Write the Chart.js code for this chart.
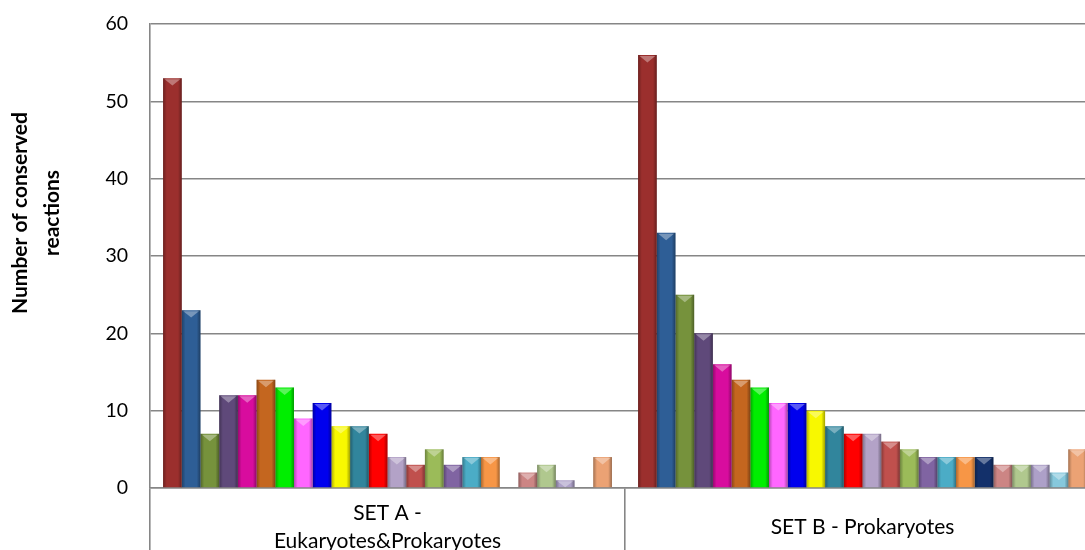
<!DOCTYPE html>
<html>
<head>
<meta charset="utf-8">
<script src="https://cdn.jsdelivr.net/npm/chart.js@4"></script>
<style>
  html, body { margin:0; padding:0; background:#fff; overflow:hidden; }
  #wrap { position:absolute; left:0; top:0; width:1100px; height:580px; }
</style>
</head>
<body>
<div id="wrap"><canvas id="chart" width="1100" height="580"></canvas></div>
<script>
// categories (x axis)
const categories = [["SET A -", "Eukaryotes&Prokaryotes"], "SET B - Prokaryotes"];
// one value per series
const setA = [53, 23, 7, 12, 12, 14, 13, 9, 11, 8, 8, 7, 4, 3, 5, 3, 4, 4, 0, 2, 3, 1, 0, 4];
const setB = [56, 33, 25, 20, 16, 14, 13, 11, 11, 10, 8, 7, 7, 6, 5, 4, 4, 4, 4, 3, 3, 3, 2, 5];
const colors = [
  "#9b2f2d", "#2e5e96", "#76923c", "#5f497a", "#d80c9e", "#c4661f",
  "#00ee00", "#ff66ff", "#0000ee", "#f8f800", "#31859c", "#ff0000",
  "#b3a2c7", "#c0504d", "#9bbb59", "#8064a2", "#4bacc6", "#f79646",
  "#13306a", "#cc8584", "#b0c88e", "#ada0c8", "#86c8dc", "#eba274"
];
const yTicks = [0, 10, 20, 30, 40, 50, 60];

const FONT = "Lato, 'Open Sans', sans-serif";

// bevel look of the excel bars, drawn over each bar element
const bevel = {
  id: "bevel",
  afterDatasetsDraw(chart){
    const ctx = chart.ctx;
    chart.data.datasets.forEach(function(ds, di){
      chart.getDatasetMeta(di).data.forEach(function(bar){
        const h = bar.base - bar.y;
        if(h < 1) return;
        const w = bar.width, l = bar.x - w/2;
        ctx.save();
        const g = ctx.createLinearGradient(l, 0, l + w, 0);
        g.addColorStop(0, "rgba(0,0,0,0.30)");
        g.addColorStop(0.2, "rgba(0,0,0,0)");
        g.addColorStop(0.8, "rgba(0,0,0,0)");
        g.addColorStop(1, "rgba(0,0,0,0.35)");
        ctx.fillStyle = g;
        ctx.fillRect(l, bar.y, w, h);
        const th = Math.min(w*0.4, h);
        ctx.beginPath();
        ctx.moveTo(l + 1.5, bar.y + 1);
        ctx.lineTo(l + w - 1.5, bar.y + 1);
        ctx.lineTo(bar.x, bar.y + th);
        ctx.closePath();
        ctx.fillStyle = "rgba(255,255,255,0.35)";
        ctx.fill();
        ctx.restore();
      });
    });
  }
};

// y title sits higher than the plot centre in the original
const yTitle = {
  id: "yTitle",
  afterDraw(chart){
    const ctx = chart.ctx;
    ctx.save();
    ctx.translate(36, 213);
    ctx.rotate(-Math.PI/2);
    ctx.font = "bold 21px " + FONT;
    ctx.fillStyle = "#000";
    ctx.textAlign = "center";
    ctx.textBaseline = "middle";
    ctx.fillText("Number of conserved", 0, -16);
    ctx.fillText("reactions", 0, 16);
    ctx.restore();
  }
};

const datasets = colors.map(function(c, i){
  return {
    label: "Series " + (i + 1),
    data: [setA[i], setB[i]],
    backgroundColor: c,
    borderWidth: 0,
    categoryPercentage: 0.945,
    barPercentage: 1
  };
});

new Chart(document.getElementById("chart"), {
  type: "bar",
  data: { labels: categories, datasets: datasets },
  options: {
    responsive: false,
    animation: false,
    layout: { padding: { top: 24, right: 0, left: 0, bottom: 0 } },
    plugins: { legend: { display: false }, tooltip: { enabled: false } },
    scales: {
      x: {
        grid: { offset: true, drawOnChartArea: false, drawTicks: true, tickLength: 70, color: "#868686", lineWidth: 1.6 },
        border: { color: "#868686", width: 1.6 },
        ticks: { color: "#000", font: { family: FONT, size: 21, lineHeight: "28px" }, padding: -45, crossAlign: "center", maxRotation: 0, autoSkip: false },
        afterFit: function(s){ s.height = 92; }
      },
      y: {
        min: 0, max: 60,
        afterBuildTicks: function(s){ s.ticks = yTicks.map(function(v){ return { value: v }; }); },
        grid: { drawTicks: false, color: "#868686", lineWidth: 1.6 },
        border: { color: "#868686", width: 1.6 },
        ticks: { color: "#000", font: { family: FONT, size: 19.5 }, padding: 22 },
        afterFit: function(s){ s.width = 150; s.paddingTop = 12; s.paddingBottom = 12; }
      }
    }
  },
  plugins: [bevel, yTitle]
});
</script>
</body>
</html>
